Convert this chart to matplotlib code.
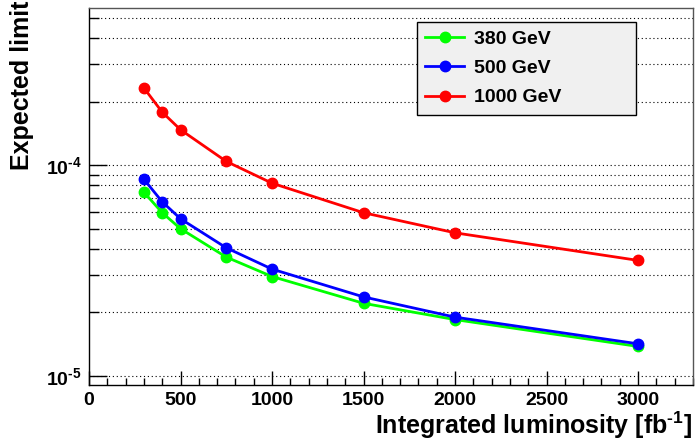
import matplotlib
matplotlib.use("Agg")
import matplotlib.pyplot as plt
from matplotlib.ticker import FixedLocator, NullFormatter, MultipleLocator

plt.rcParams['font.family'] = ['Liberation Sans', 'DejaVu Sans']
plt.rcParams['font.weight'] = 'bold'
plt.rcParams['mathtext.fontset'] = 'custom'
plt.rcParams['mathtext.rm'] = 'Liberation Sans:bold'
plt.rcParams['mathtext.bf'] = 'Liberation Sans:bold'
plt.rcParams['mathtext.it'] = 'Liberation Sans:bold'

# Integrated luminosity points (fb^-1)
lumi = [300, 400, 500, 750, 1000, 1500, 2000, 3000]

# Expected limits per centre-of-mass energy
limit_380 = [7.43e-5, 5.94e-5, 4.99e-5, 3.66e-5, 2.96e-5, 2.21e-5, 1.85e-5, 1.38e-5]
limit_500 = [8.56e-5, 6.69e-5, 5.56e-5, 4.05e-5, 3.21e-5, 2.37e-5, 1.90e-5, 1.42e-5]
limit_1000 = [2.32e-4, 1.78e-4, 1.47e-4, 1.04e-4, 8.2e-5, 5.94e-5, 4.77e-5, 3.53e-5]

labels = ['380 GeV', '500 GeV', '1000 GeV']
colors = ['#00ff00', '#0000ff', '#ff0000']

fig = plt.figure(figsize=(6.98, 4.42), dpi=100)
ax = fig.add_axes([89 / 698, 1 - 385 / 442, (693 - 89) / 698, (385 - 8) / 442])

for ys, lab, col in zip([limit_380, limit_500, limit_1000], labels, colors):
    ax.plot(lumi, ys, '-o', color=col, lw=2, ms=7.5, label=lab)

ax.set_yscale('log')
ax.set_xlim(0, 3300)
ax.set_ylim(9.06e-6, 5.55e-4)

# y ticks: decades labelled, every integer step gridded
ax.yaxis.set_major_locator(FixedLocator([1e-5, 1e-4]))
ax.yaxis.set_minor_locator(FixedLocator(
    [k * 1e-5 for k in range(2, 10)] + [k * 1e-4 for k in range(2, 6)]))
ax.yaxis.set_minor_formatter(NullFormatter())
ax.set_yticklabels([r'$10^{\text{-5}}$', r'$10^{\text{-4}}$'])
ax.grid(True, which='both', axis='y', color='black', linestyle=(0, (1, 2.5)), lw=0.8)

ax.xaxis.set_major_locator(MultipleLocator(500))
ax.xaxis.set_minor_locator(MultipleLocator(100))

ax.tick_params(axis='both', which='both', direction='in', labelsize=14, width=1)
ax.tick_params(axis='y', which='major', length=13, pad=5)
ax.tick_params(axis='y', which='minor', length=7)
ax.tick_params(axis='x', which='major', length=10, pad=5)
ax.tick_params(axis='x', which='minor', length=5)
for lab in ax.get_xticklabels() + ax.get_yticklabels():
    lab.set_fontweight('bold')

for sp in ax.spines.values():
    sp.set_linewidth(1)
ax.spines['top'].set_color('#555555')
ax.spines['right'].set_color('#555555')

fig.text(692 / 698, 1 - 434 / 442, r'Integrated luminosity [fb$^{\text{-1}}$]',
         fontsize=18, fontweight='bold', ha='right', va='baseline')
fig.text(10 / 698, 1 - 1 / 442, 'Expected limit', fontsize=18, fontweight='bold',
         rotation=90, ha='left', va='top')

# fixed-size legend box
lx0 = (417 - 89) / 604
lx1 = (636 - 89) / 604
ly1 = 1 - (22 - 8) / 377
ly0 = 1 - (113 - 8) / 377
leg = ax.legend(loc='upper left', bbox_to_anchor=(lx0, ly0, lx1 - lx0, ly1 - ly0),
                mode='expand', fontsize=14, frameon=True, fancybox=False,
                edgecolor='black', facecolor='#f0f0f0', framealpha=1,
                handlelength=2.0, borderpad=0.42, labelspacing=0.6,
                handletextpad=0.5, borderaxespad=0)
leg.get_frame().set_linewidth(1)
for t in leg.get_texts():
    t.set_fontweight('bold')

fig.savefig('out.png', dpi=100)
